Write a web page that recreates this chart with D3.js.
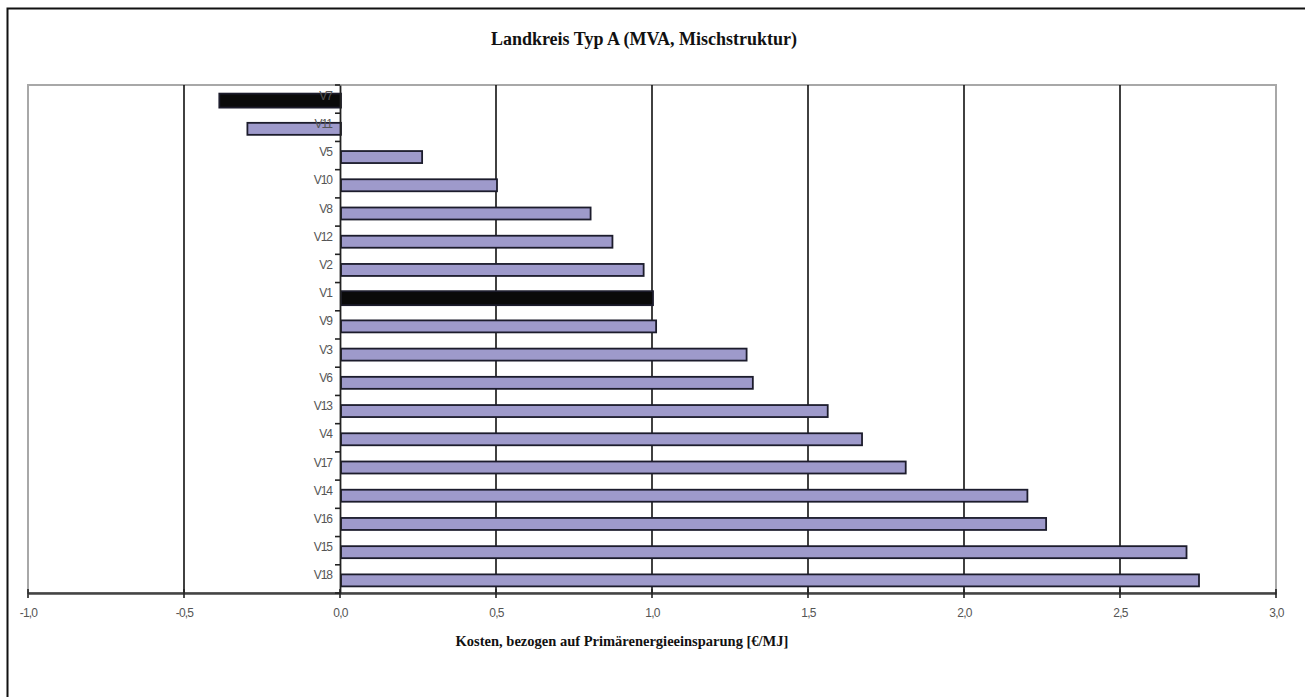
<!DOCTYPE html>
<html>
<head>
<meta charset="utf-8">
<script src="https://cdn.jsdelivr.net/npm/d3@7"></script>
<style>
  html, body { margin: 0; padding: 0; background: #fff; }
  svg { display: block; }
</style>
</head>
<body>
<svg id="chart" width="1305" height="697"></svg>
<script>
// Varianten (top to bottom) and their costs per unit of primary energy saved
const categories = ["V7", "V11", "V5", "V10", "V8", "V12", "V2", "V1", "V9", "V3",
                    "V6", "V13", "V4", "V17", "V14", "V16", "V15", "V18"];
const values = [-0.39, -0.30, 0.26, 0.50, 0.80, 0.87, 0.97, 1.00, 1.01, 1.30,
                1.32, 1.56, 1.67, 1.81, 2.20, 2.26, 2.71, 2.75];
// Highlighted reference variants drawn in black
const highlighted = ["V7", "V1"];
const xTicks = [-1.0, -0.5, 0.0, 0.5, 1.0, 1.5, 2.0, 2.5, 3.0];
const xDomain = [-1.0, 3.0];
const titleText = "Landkreis Typ A (MVA, Mischstruktur)";
const xAxisTitle = "Kosten, bezogen auf Primärenergieeinsparung [€/MJ]";

const data = categories.map((c, i) => ({ name: c, value: values[i] }));

const svg = d3.select("#chart");
const W = 1305, H = 697;
const plot = { left: 28, right: 1276, top: 85, bottom: 593 };

// outer frame
svg.append("rect")
  .attr("x", 7.5).attr("y", 8.5)
  .attr("width", W + 10).attr("height", H + 10)
  .attr("fill", "#fff").attr("stroke", "#111").attr("stroke-width", 2);

const x = d3.scaleLinear().domain(xDomain).range([plot.left, plot.right]);
const y = d3.scaleBand().domain(categories).range([plot.top, plot.bottom]).paddingInner(0).paddingOuter(0);

// plot area border
svg.append("rect")
  .attr("x", plot.left).attr("y", plot.top)
  .attr("width", plot.right - plot.left).attr("height", plot.bottom - plot.top)
  .attr("fill", "#fff").attr("stroke", "#a8a8a8").attr("stroke-width", 2);

// vertical gridlines
svg.append("g")
  .selectAll("line")
  .data(xTicks.filter(t => t !== 0 && t !== xDomain[0] && t !== xDomain[1]))
  .join("line")
  .attr("x1", d => x(d)).attr("x2", d => x(d))
  .attr("y1", plot.top).attr("y2", plot.bottom)
  .attr("stroke", "#111").attr("stroke-width", 1.6);

// bars
const barH = d => highlighted.includes(d.name) ? 14 : 12;
svg.append("g")
  .selectAll("rect")
  .data(data)
  .join("rect")
  .attr("x", d => Math.min(x(0), x(d.value)) + 1)
  .attr("width", d => Math.abs(x(d.value) - x(0)))
  .attr("y", d => y(d.name) + y.bandwidth() / 2 - barH(d) / 2 + 1.5)
  .attr("height", barH)
  .attr("fill", d => highlighted.includes(d.name) ? "#0a0a0a" : "#9e9acb")
  .attr("stroke", "#1c1c2c")
  .attr("stroke-width", 1.8);

// x axis along the bottom
const xAxis = d3.axisBottom(x)
  .tickValues(xTicks)
  .tickSize(0)
  .tickFormat(d => d3.format(".1f")(d).replace(".", ",").replace("−", "-"));
const gx = svg.append("g")
  .attr("transform", `translate(0,${plot.bottom})`)
  .call(xAxis);
gx.select(".domain").attr("stroke", "#444").attr("stroke-width", 2.5);
gx.selectAll("text")
  .attr("dy", "1.75em")
  .attr("fill", "#555")
  .style("font-family", "Arial, 'Liberation Sans', sans-serif")
  .style("font-size", "12px")
  .style("letter-spacing", "-0.8px");
// tick marks crossing the axis
svg.append("g")
  .selectAll("line")
  .data(xTicks)
  .join("line")
  .attr("x1", d => x(d)).attr("x2", d => x(d))
  .attr("y1", plot.bottom - 4).attr("y2", plot.bottom + 5)
  .attr("stroke", "#222").attr("stroke-width", 1.6);

// category axis at zero
const yAxis = d3.axisLeft(y).tickSize(0).tickPadding(8);
const gy = svg.append("g")
  .attr("transform", `translate(${x(0)},0)`)
  .call(yAxis);
gy.select(".domain").attr("stroke", "#222").attr("stroke-width", 1.8);
gy.selectAll("text")
  .attr("dy", "0.05em")
  .attr("fill", "#555")
  .style("font-family", "Arial, 'Liberation Sans', sans-serif")
  .style("font-size", "12px")
  .style("letter-spacing", "-1px");
// category boundary ticks on the left of the zero line
svg.append("g")
  .selectAll("line")
  .data(d3.range(categories.length + 1))
  .join("line")
  .attr("x1", x(0) - 5).attr("x2", x(0))
  .attr("y1", i => plot.top + i * y.step())
  .attr("y2", i => plot.top + i * y.step())
  .attr("stroke", "#222").attr("stroke-width", 1.6);

// titles
svg.append("text")
  .attr("x", 644).attr("y", 45)
  .attr("text-anchor", "middle")
  .style("font-family", "'Liberation Serif', 'Times New Roman', serif")
  .style("font-weight", "bold")
  .style("font-size", "18px")
  .attr("fill", "#111")
  .text(titleText);

svg.append("text")
  .attr("x", 622).attr("y", 646)
  .attr("text-anchor", "middle")
  .style("font-family", "'Liberation Serif', 'Times New Roman', serif")
  .style("font-weight", "bold")
  .style("font-size", "14.5px")
  .attr("fill", "#111")
  .text(xAxisTitle);
</script>
</body>
</html>
